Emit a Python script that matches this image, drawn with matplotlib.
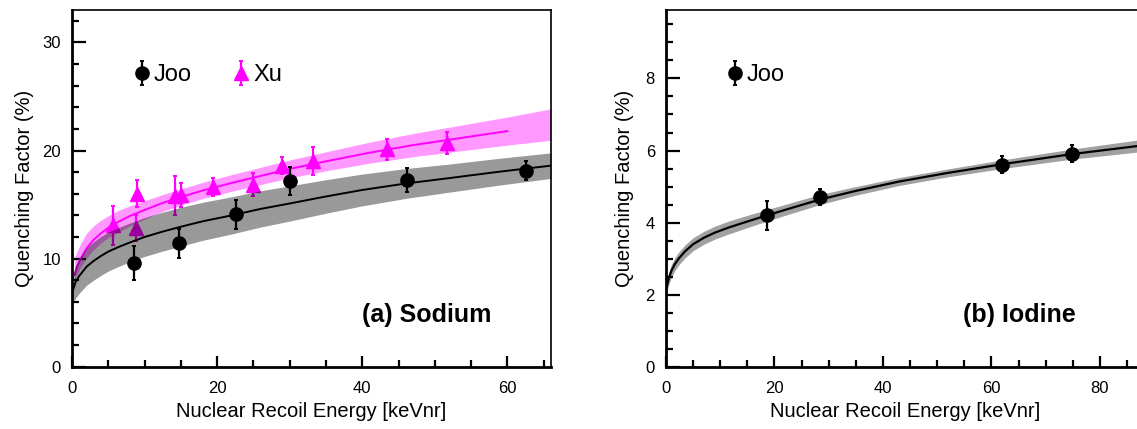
import matplotlib
matplotlib.use("Agg")
import matplotlib.pyplot as plt
from matplotlib.ticker import MultipleLocator

plt.rcParams['font.family'] = ['Liberation Sans', 'DejaVu Sans']

# ---------------- Sodium (a) ----------------
na_joo_x = [8.6, 14.7, 22.6, 30.1, 46.1, 62.5]
na_joo_y = [9.6, 11.4, 14.1, 17.2, 17.3, 18.15]
na_joo_err = [1.6, 1.3, 1.35, 1.3, 1.1, 0.9]

na_xu_x = [5.6, 9.0, 8.8, 14.2, 15.0, 19.4, 24.9, 29.0, 33.2, 43.4, 51.7]
na_xu_y = [13.1, 16.0, 12.8, 15.8, 15.9, 16.6, 16.85, 18.6, 19.0, 20.1, 20.7]
na_xu_err = [1.8, 1.25, 1.2, 1.8, 1.1, 0.85, 1.05, 0.8, 1.3, 1.0, 1.05]

# fit curves and bands
na_joo_fit_x = [0.15, 0.5, 1.0, 2.0, 3.0, 4.0, 5.0, 6.5, 8.0, 10, 12.5, 15,
                18, 22, 26, 30, 35, 40, 46, 52, 59, 66]
na_joo_fit_y = [7.1, 7.85, 8.4, 9.25, 9.8, 10.25, 10.65, 11.1, 11.5, 12.0, 12.5,
                12.95, 13.45, 14.0, 14.6, 15.1, 15.75, 16.35, 16.95, 17.45,
                18.05, 18.6]
na_joo_band_hi = [8.6, 9.35, 10.0, 10.97, 11.58, 12.05, 12.45, 12.9, 13.3, 13.8,
                  14.3, 14.75, 15.21, 15.72, 16.28, 16.73, 17.3, 17.82, 18.33,
                  18.75, 19.29, 19.78]
na_joo_band_lo = [5.9, 6.35, 6.8, 7.53, 8.02, 8.45, 8.85, 9.3, 9.7, 10.2, 10.7,
                  11.15, 11.69, 12.28, 12.92, 13.47, 14.2, 14.88, 15.57, 16.15,
                  16.81, 17.42]

na_xu_fit_x = [0.37, 0.7, 1.2, 2.0, 3.0, 4.0, 5.0, 6.5, 8.0, 10, 12.5, 15, 18,
               22, 26, 30, 35, 41, 47, 53, 60]
na_xu_fit_y = [8.5, 9.3, 10.0, 10.95, 11.75, 12.35, 12.85, 13.45, 13.95, 14.5,
               15.15, 15.7, 16.3, 17.0, 17.65, 18.3, 19.0, 19.8, 20.5, 21.1, 21.8]
na_xu_band_x = [0.37, 0.7, 1.2, 2.0, 3.0, 4.0, 5.0, 6.5, 8.0, 10, 12.5, 15, 18,
                22, 26, 30, 35, 41, 47, 53, 60, 66]
na_xu_band_hi = [10.1, 10.65, 11.4, 12.35, 13.05, 13.55, 13.97, 14.5, 14.88,
                 15.35, 15.93, 16.45, 17.05, 17.77, 18.45, 19.13, 19.88, 20.77,
                 21.57, 22.28, 23.1, 23.85]
na_xu_band_lo = [8.1, 8.55, 9.2, 10.05, 10.85, 11.45, 11.93, 12.5, 13.02, 13.65,
                 14.37, 14.95, 15.55, 16.23, 16.85, 17.47, 18.12, 18.83, 19.43,
                 19.92, 20.5, 20.95]

# ---------------- Iodine (b) ----------------
i_joo_x = [18.55, 28.4, 62.0, 74.8]
i_joo_y = [4.2, 4.7, 5.61, 5.91]
i_joo_err = [0.4, 0.22, 0.23, 0.23]

i_fit_x = [0.18, 0.5, 1.0, 1.6, 2.34, 3.5, 5.0, 7.0, 9.0, 11.5, 15, 18.6, 23,
           28.4, 35, 43, 52, 62, 74.8, 88.3]
i_fit_y = [2.23, 2.45, 2.66, 2.84, 3.0, 3.2, 3.4, 3.58, 3.72, 3.86, 4.03, 4.2,
           4.4, 4.64, 4.88, 5.14, 5.38, 5.62, 5.9, 6.15]
i_band_hi = [2.40, 2.62, 2.84, 3.02, 3.18, 3.38, 3.58, 3.76, 3.90, 4.04, 4.20,
             4.36, 4.55, 4.78, 5.00, 5.25, 5.49, 5.74, 6.04, 6.32]
i_band_lo = [2.06, 2.28, 2.48, 2.66, 2.82, 3.02, 3.22, 3.40, 3.54, 3.68, 3.86,
             4.04, 4.25, 4.50, 4.76, 5.03, 5.27, 5.50, 5.76, 5.98]

MAG = '#ff00ff'

W, H = 1137, 429
fig = plt.figure(figsize=(W / 100, H / 100), dpi=100)
ax1 = fig.add_axes([72 / W, 62.3 / H, 479 / W, 356.7 / H])
ax2 = fig.add_axes([666 / W, 62.3 / H, 479 / W, 356.7 / H])


def style(ax, xmax, ymax, ymaj, ymin, ylab_x):
    ax.set_xlim(0, xmax)
    ax.set_ylim(0, ymax)
    ax.xaxis.set_major_locator(MultipleLocator(20))
    ax.xaxis.set_minor_locator(MultipleLocator(5))
    ax.yaxis.set_major_locator(MultipleLocator(ymaj))
    ax.yaxis.set_minor_locator(MultipleLocator(ymin))
    ax.tick_params(which='both', direction='in', top=False, right=False,
                   width=1.6, labelsize=12)
    ax.tick_params(axis='y', which='major', length=10, pad=8)
    ax.tick_params(axis='y', which='minor', length=5)
    ax.tick_params(axis='x', which='major', length=8, pad=10.5)
    ax.tick_params(axis='x', which='minor', length=5)
    for s in ['left', 'bottom']:
        ax.spines[s].set_linewidth(2.0)
    for s in ['top', 'right']:
        ax.spines[s].set_linewidth(1.2)
    ax.set_xlabel('Nuclear Recoil Energy [keVnr]', fontsize=14.5)
    ax.set_ylabel('Quenching Factor (%)', fontsize=14.5)
    ax.xaxis.set_label_coords(0.5, -0.10)
    ax.yaxis.set_label_coords(ylab_x, 0.5)


style(ax1, 66, 33, 10, 2, -0.079)
style(ax2, 88.3, 9.9, 2, 0.5, -0.067)

# ---- panel (a)
ax1.fill_between(na_xu_band_x, na_xu_band_lo, na_xu_band_hi, color=MAG,
                 alpha=0.4, lw=0, zorder=1)
ax1.plot(na_xu_fit_x, na_xu_fit_y, color=MAG, lw=1.4, zorder=2)
hxu = ax1.errorbar(na_xu_x, na_xu_y, yerr=na_xu_err, fmt='^', color=MAG,
                   ms=10, elinewidth=1.6, capsize=1.5, capthick=1.4, zorder=3)
ax1.fill_between(na_joo_fit_x, na_joo_band_lo, na_joo_band_hi, color='black',
                 alpha=0.4, lw=0, zorder=4)
ax1.plot(na_joo_fit_x, na_joo_fit_y, color='black', lw=1.4, zorder=5)
hjoo = ax1.errorbar(na_joo_x, na_joo_y, yerr=na_joo_err, fmt='o', color='black',
                    ms=9.5, elinewidth=1.6, capsize=1.5, capthick=1.4, zorder=6)
ax1.legend([hjoo, hxu], ['Joo', 'Xu'], ncol=2, frameon=False, fontsize=17,
           loc='center left', bbox_to_anchor=(0.131, 0.817), borderpad=0,
           borderaxespad=0, handlelength=0.6, handletextpad=0.2,
           columnspacing=1.8)
ax1.text(0.741, 0.146, '(a) Sodium', transform=ax1.transAxes, fontsize=18,
         fontweight='bold', ha='center', va='center')

# ---- panel (b)
ax2.fill_between(i_fit_x, i_band_lo, i_band_hi, color='black', alpha=0.37,
                 lw=0, zorder=1)
ax2.plot(i_fit_x, i_fit_y, color='black', lw=1.6, zorder=2)
hi = ax2.errorbar(i_joo_x, i_joo_y, yerr=i_joo_err, fmt='o', color='black',
                  ms=9.5, elinewidth=1.6, capsize=1.5, capthick=1.4, zorder=3)
ax2.legend([hi], ['Joo'], frameon=False, fontsize=17, loc='center left',
           bbox_to_anchor=(0.129, 0.817), borderpad=0, borderaxespad=0,
           handlelength=0.6, handletextpad=0.2)
ax2.text(0.737, 0.146, '(b) Iodine', transform=ax2.transAxes, fontsize=18,
         fontweight='bold', ha='center', va='center')

fig.savefig('out.png', dpi=100)
